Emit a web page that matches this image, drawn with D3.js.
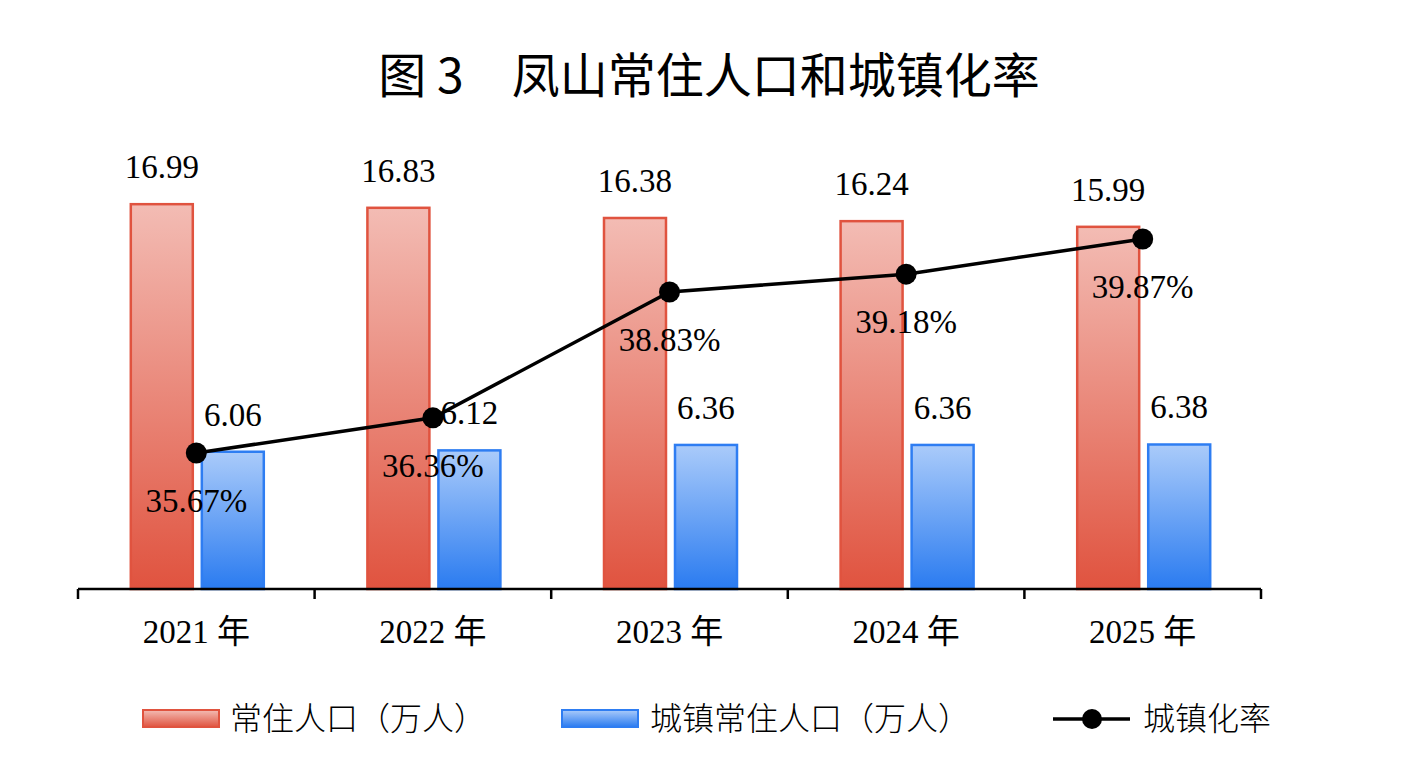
<!DOCTYPE html>
<html>
<head>
<meta charset="utf-8">
<script src="https://cdn.jsdelivr.net/npm/d3@7"></script>
<style>
  body { margin: 0; background: #fff; }
  svg { display: block; }
</style>
</head>
<body>
<svg id="chart"></svg>
<script>
var w = 1418;
var h = 770;

// data
var years = ["2021 年", "2022 年", "2023 年", "2024 年", "2025 年"];
var population = [16.99, 16.83, 16.38, 16.24, 15.99];
var urbanPopulation = [6.06, 6.12, 6.36, 6.36, 6.38];
var urbanRate = [35.67, 36.36, 38.83, 39.18, 39.87];
var seriesNames = ["常住人口（万人）", "城镇常住人口（万人）", "城镇化率"];

var numFont = "'Liberation Serif', 'Times New Roman', serif";
var cjkFont = "'Liberation Serif', 'Noto Sans CJK SC', serif";

let svg = d3.select("#chart")
    .attr("width", w)
    .attr("height", h);

// gradients
let defs = svg.append("defs");
function addGradient(id, top, bottom) {
    let g = defs.append("linearGradient")
        .attr("id", id)
        .attr("x1", 0).attr("y1", 0)
        .attr("x2", 0).attr("y2", 1);
    g.append("stop").attr("offset", "0%").attr("stop-color", top);
    g.append("stop").attr("offset", "100%").attr("stop-color", bottom);
}
addGradient("redGrad", "#F3BCB4", "#E0533F");
addGradient("blueGrad", "#AACBFA", "#2A7BF0");

// title
svg.append("text")
    .attr("x", 709)
    .attr("y", 72)
    .attr("text-anchor", "middle")
    .attr("dominant-baseline", "central")
    .style("font-family", "'Noto Sans CJK SC', sans-serif")
    .style("font-size", "48px")
    .style("font-weight", 400)
    .text("图 3　凤山常住人口和城镇化率");

// scales
let xScale = d3.scaleBand()
    .domain(years)
    .range([78, 1261])
    .padding(0);

let groupW = 133;
let xInner = d3.scaleBand()
    .domain(["pop", "urban"])
    .range([(xScale.step() - groupW) / 2 + 1, (xScale.step() + groupW) / 2 + 1])
    .paddingInner(0.127)
    .paddingOuter(0);

let yScale = d3.scaleLinear()
    .domain([0, 20])
    .range([589, 136]);

let y2Scale = d3.scaleLinear()
    .domain([33, 42])
    .range([589, 130.5]);

let rows = years.map((y, i) => ({
    year: y,
    pop: population[i],
    urban: urbanPopulation[i],
    rate: urbanRate[i]
}));

// bars
let groups = svg.append("g")
    .selectAll("g")
    .data(rows)
    .enter()
    .append("g")
    .attr("transform", d => `translate(${xScale(d.year)},0)`);

groups.append("rect")
    .attr("x", xInner("pop"))
    .attr("y", d => yScale(d.pop))
    .attr("width", xInner.bandwidth())
    .attr("height", d => yScale(0) - yScale(d.pop))
    .attr("fill", "url(#redGrad)")
    .attr("stroke", "#E0533F")
    .attr("stroke-width", 2.5);

groups.append("rect")
    .attr("x", xInner("urban"))
    .attr("y", d => yScale(d.urban))
    .attr("width", xInner.bandwidth())
    .attr("height", d => yScale(0) - yScale(d.urban))
    .attr("fill", "url(#blueGrad)")
    .attr("stroke", "#2E7DF2")
    .attr("stroke-width", 2.5);

// bar labels
groups.append("text")
    .attr("x", xInner("pop") + xInner.bandwidth() / 2)
    .attr("y", d => yScale(d.pop) - 26)
    .attr("text-anchor", "middle")
    .style("font-family", numFont)
    .style("font-size", "33px")
    .text(d => d.pop.toFixed(2));

groups.append("text")
    .attr("x", xInner("urban") + xInner.bandwidth() / 2)
    .attr("y", d => yScale(d.urban) - 26)
    .attr("text-anchor", "middle")
    .style("font-family", numFont)
    .style("font-size", "33px")
    .text(d => d.urban.toFixed(2));

// x axis
let xAxis = d3.axisBottom(xScale)
    .tickSize(0)
    .tickFormat("");
let axisG = svg.append("g")
    .attr("transform", `translate(0, 589)`)
    .call(xAxis);
axisG.select(".domain").remove();
axisG.append("line")
    .attr("x1", 78).attr("x2", 1261)
    .attr("y1", 0).attr("y2", 0)
    .attr("stroke", "#000")
    .attr("stroke-width", 2.5);
// boundary tick marks between categories
let bounds = years.map(d => xScale(d)).concat([xScale(years[years.length - 1]) + xScale.step()]);
axisG.selectAll(".bound")
    .data(bounds)
    .enter()
    .append("line")
    .attr("class", "bound")
    .attr("x1", d => d).attr("x2", d => d)
    .attr("y1", 0).attr("y2", 10)
    .attr("stroke", "#000")
    .attr("stroke-width", 2.5);

svg.append("g")
    .selectAll("text")
    .data(years)
    .enter()
    .append("text")
    .attr("x", d => xScale(d) + xScale.bandwidth() / 2)
    .attr("y", 643)
    .attr("text-anchor", "middle")
    .style("font-family", cjkFont)
    .style("font-size", "33px")
    .text(d => d);

// urbanisation line
let line = d3.line()
    .x(d => xScale(d.year) + xScale.bandwidth() / 2)
    .y(d => y2Scale(d.rate));

svg.append("path")
    .datum(rows)
    .attr("d", line)
    .attr("fill", "none")
    .attr("stroke", "#000")
    .attr("stroke-width", 3.5);

svg.append("g")
    .selectAll("circle")
    .data(rows)
    .enter()
    .append("circle")
    .attr("cx", d => xScale(d.year) + xScale.bandwidth() / 2)
    .attr("cy", d => y2Scale(d.rate))
    .attr("r", 10.5)
    .attr("fill", "#000");

svg.append("g")
    .selectAll("text")
    .data(rows)
    .enter()
    .append("text")
    .attr("x", d => xScale(d.year) + xScale.bandwidth() / 2)
    .attr("y", d => y2Scale(d.rate) + 59)
    .attr("text-anchor", "middle")
    .style("font-family", numFont)
    .style("font-size", "33px")
    .text(d => d.rate.toFixed(2) + "%");

// legend
let legend = svg.append("g");
legend.append("rect")
    .attr("x", 143).attr("y", 710)
    .attr("width", 76).attr("height", 17)
    .attr("fill", "url(#redGrad)")
    .attr("stroke", "#E0533F")
    .attr("stroke-width", 2);
legend.append("text")
    .attr("x", 230).attr("y", 716)
    .attr("dominant-baseline", "central")
    .style("font-family", "'Noto Sans CJK SC', sans-serif")
    .style("font-size", "32px")
    .style("font-weight", 300)
    .text(seriesNames[0]);

legend.append("rect")
    .attr("x", 562).attr("y", 710)
    .attr("width", 76).attr("height", 17)
    .attr("fill", "url(#blueGrad)")
    .attr("stroke", "#2E7DF2")
    .attr("stroke-width", 2);
legend.append("text")
    .attr("x", 650).attr("y", 716)
    .attr("dominant-baseline", "central")
    .style("font-family", "'Noto Sans CJK SC', sans-serif")
    .style("font-size", "32px")
    .style("font-weight", 300)
    .text(seriesNames[1]);

legend.append("line")
    .attr("x1", 1053).attr("x2", 1130)
    .attr("y1", 719).attr("y2", 719)
    .attr("stroke", "#000")
    .attr("stroke-width", 3.5);
legend.append("circle")
    .attr("cx", 1092).attr("cy", 719)
    .attr("r", 10)
    .attr("fill", "#000");
legend.append("text")
    .attr("x", 1143).attr("y", 716)
    .attr("dominant-baseline", "central")
    .style("font-family", "'Noto Sans CJK SC', sans-serif")
    .style("font-size", "32px")
    .style("font-weight", 300)
    .text(seriesNames[2]);
</script>
</body>
</html>
